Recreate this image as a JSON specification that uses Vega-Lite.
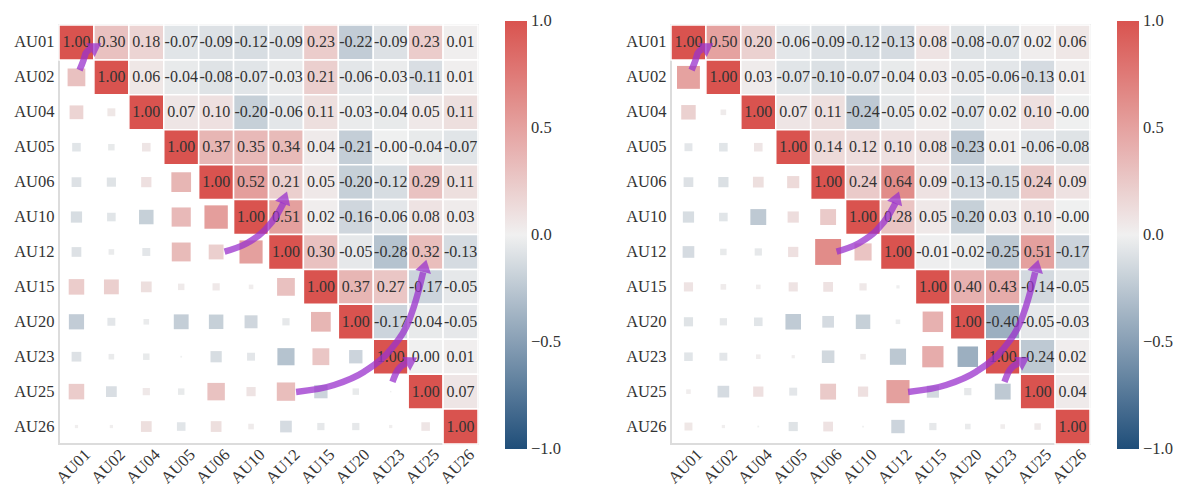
{
  "$schema": "https://vega.github.io/schema/vega-lite/v6.json",
  "padding": {"left": 12, "top": 20, "right": 5, "bottom": 0},
  "background": "white",
  "spacing": 62,
  "config": {
    "view": {"stroke": "#dcdcdc", "strokeWidth": 2},
    "font": "Liberation Serif",
    "axis": {"labelFont": "Liberation Serif", "labelFontSize": 16.5, "labelColor": "#333333", "ticks": false, "domain": false, "grid": false},
    "legend": {"labelFont": "Liberation Serif", "labelFontSize": 16.5, "labelColor": "#333333"},
    "text": {"font": "Liberation Serif"}
  },
  "resolve": {"scale": {"color": "independent"}, "legend": {"color": "independent"}},
  "datasets": {
    "left": [
      {"row":"AU01","col":"AU01","r":1},{"row":"AU01","col":"AU02","r":0.30},{"row":"AU01","col":"AU04","r":0.18},{"row":"AU01","col":"AU05","r":-0.07},{"row":"AU01","col":"AU06","r":-0.09},{"row":"AU01","col":"AU10","r":-0.12},{"row":"AU01","col":"AU12","r":-0.09},{"row":"AU01","col":"AU15","r":0.23},{"row":"AU01","col":"AU20","r":-0.22},{"row":"AU01","col":"AU23","r":-0.09},{"row":"AU01","col":"AU25","r":0.23},{"row":"AU01","col":"AU26","r":0.01},
      {"row":"AU02","col":"AU02","r":1},{"row":"AU02","col":"AU04","r":0.06},{"row":"AU02","col":"AU05","r":-0.04},{"row":"AU02","col":"AU06","r":-0.08},{"row":"AU02","col":"AU10","r":-0.07},{"row":"AU02","col":"AU12","r":-0.03},{"row":"AU02","col":"AU15","r":0.21},{"row":"AU02","col":"AU20","r":-0.06},{"row":"AU02","col":"AU23","r":-0.03},{"row":"AU02","col":"AU25","r":-0.11},{"row":"AU02","col":"AU26","r":0.01},
      {"row":"AU04","col":"AU04","r":1},{"row":"AU04","col":"AU05","r":0.07},{"row":"AU04","col":"AU06","r":0.10},{"row":"AU04","col":"AU10","r":-0.20},{"row":"AU04","col":"AU12","r":-0.06},{"row":"AU04","col":"AU15","r":0.11},{"row":"AU04","col":"AU20","r":-0.03},{"row":"AU04","col":"AU23","r":-0.04},{"row":"AU04","col":"AU25","r":0.05},{"row":"AU04","col":"AU26","r":0.11},
      {"row":"AU05","col":"AU05","r":1},{"row":"AU05","col":"AU06","r":0.37},{"row":"AU05","col":"AU10","r":0.35},{"row":"AU05","col":"AU12","r":0.34},{"row":"AU05","col":"AU15","r":0.04},{"row":"AU05","col":"AU20","r":-0.21},{"row":"AU05","col":"AU23","r":-0.003},{"row":"AU05","col":"AU25","r":-0.04},{"row":"AU05","col":"AU26","r":-0.07},
      {"row":"AU06","col":"AU06","r":1},{"row":"AU06","col":"AU10","r":0.52},{"row":"AU06","col":"AU12","r":0.21},{"row":"AU06","col":"AU15","r":0.05},{"row":"AU06","col":"AU20","r":-0.20},{"row":"AU06","col":"AU23","r":-0.12},{"row":"AU06","col":"AU25","r":0.29},{"row":"AU06","col":"AU26","r":0.11},
      {"row":"AU10","col":"AU10","r":1},{"row":"AU10","col":"AU12","r":0.51},{"row":"AU10","col":"AU15","r":0.02},{"row":"AU10","col":"AU20","r":-0.16},{"row":"AU10","col":"AU23","r":-0.06},{"row":"AU10","col":"AU25","r":0.08},{"row":"AU10","col":"AU26","r":0.03},
      {"row":"AU12","col":"AU12","r":1},{"row":"AU12","col":"AU15","r":0.30},{"row":"AU12","col":"AU20","r":-0.05},{"row":"AU12","col":"AU23","r":-0.28},{"row":"AU12","col":"AU25","r":0.32},{"row":"AU12","col":"AU26","r":-0.13},
      {"row":"AU15","col":"AU15","r":1},{"row":"AU15","col":"AU20","r":0.37},{"row":"AU15","col":"AU23","r":0.27},{"row":"AU15","col":"AU25","r":-0.17},{"row":"AU15","col":"AU26","r":-0.05},
      {"row":"AU20","col":"AU20","r":1},{"row":"AU20","col":"AU23","r":-0.17},{"row":"AU20","col":"AU25","r":-0.04},{"row":"AU20","col":"AU26","r":-0.05},
      {"row":"AU23","col":"AU23","r":1},{"row":"AU23","col":"AU25","r":0.002},{"row":"AU23","col":"AU26","r":0.01},
      {"row":"AU25","col":"AU25","r":1},{"row":"AU25","col":"AU26","r":0.07},
      {"row":"AU26","col":"AU26","r":1}
    ],
    "right": [
      {"row":"AU01","col":"AU01","r":1},{"row":"AU01","col":"AU02","r":0.50},{"row":"AU01","col":"AU04","r":0.20},{"row":"AU01","col":"AU05","r":-0.06},{"row":"AU01","col":"AU06","r":-0.09},{"row":"AU01","col":"AU10","r":-0.12},{"row":"AU01","col":"AU12","r":-0.13},{"row":"AU01","col":"AU15","r":0.08},{"row":"AU01","col":"AU20","r":-0.08},{"row":"AU01","col":"AU23","r":-0.07},{"row":"AU01","col":"AU25","r":0.02},{"row":"AU01","col":"AU26","r":0.06},
      {"row":"AU02","col":"AU02","r":1},{"row":"AU02","col":"AU04","r":0.03},{"row":"AU02","col":"AU05","r":-0.07},{"row":"AU02","col":"AU06","r":-0.10},{"row":"AU02","col":"AU10","r":-0.07},{"row":"AU02","col":"AU12","r":-0.04},{"row":"AU02","col":"AU15","r":0.03},{"row":"AU02","col":"AU20","r":-0.05},{"row":"AU02","col":"AU23","r":-0.06},{"row":"AU02","col":"AU25","r":-0.13},{"row":"AU02","col":"AU26","r":0.01},
      {"row":"AU04","col":"AU04","r":1},{"row":"AU04","col":"AU05","r":0.07},{"row":"AU04","col":"AU06","r":0.11},{"row":"AU04","col":"AU10","r":-0.24},{"row":"AU04","col":"AU12","r":-0.05},{"row":"AU04","col":"AU15","r":0.02},{"row":"AU04","col":"AU20","r":-0.07},{"row":"AU04","col":"AU23","r":0.02},{"row":"AU04","col":"AU25","r":0.10},{"row":"AU04","col":"AU26","r":-0.003},
      {"row":"AU05","col":"AU05","r":1},{"row":"AU05","col":"AU06","r":0.14},{"row":"AU05","col":"AU10","r":0.12},{"row":"AU05","col":"AU12","r":0.10},{"row":"AU05","col":"AU15","r":0.08},{"row":"AU05","col":"AU20","r":-0.23},{"row":"AU05","col":"AU23","r":0.01},{"row":"AU05","col":"AU25","r":-0.06},{"row":"AU05","col":"AU26","r":-0.08},
      {"row":"AU06","col":"AU06","r":1},{"row":"AU06","col":"AU10","r":0.24},{"row":"AU06","col":"AU12","r":0.64},{"row":"AU06","col":"AU15","r":0.09},{"row":"AU06","col":"AU20","r":-0.13},{"row":"AU06","col":"AU23","r":-0.15},{"row":"AU06","col":"AU25","r":0.24},{"row":"AU06","col":"AU26","r":0.09},
      {"row":"AU10","col":"AU10","r":1},{"row":"AU10","col":"AU12","r":0.28},{"row":"AU10","col":"AU15","r":0.05},{"row":"AU10","col":"AU20","r":-0.20},{"row":"AU10","col":"AU23","r":0.03},{"row":"AU10","col":"AU25","r":0.10},{"row":"AU10","col":"AU26","r":-0.003},
      {"row":"AU12","col":"AU12","r":1},{"row":"AU12","col":"AU15","r":-0.01},{"row":"AU12","col":"AU20","r":-0.02},{"row":"AU12","col":"AU23","r":-0.25},{"row":"AU12","col":"AU25","r":0.51},{"row":"AU12","col":"AU26","r":-0.17},
      {"row":"AU15","col":"AU15","r":1},{"row":"AU15","col":"AU20","r":0.40},{"row":"AU15","col":"AU23","r":0.43},{"row":"AU15","col":"AU25","r":-0.14},{"row":"AU15","col":"AU26","r":-0.05},
      {"row":"AU20","col":"AU20","r":1},{"row":"AU20","col":"AU23","r":-0.40},{"row":"AU20","col":"AU25","r":-0.05},{"row":"AU20","col":"AU26","r":-0.03},
      {"row":"AU23","col":"AU23","r":1},{"row":"AU23","col":"AU25","r":-0.24},{"row":"AU23","col":"AU26","r":0.02},
      {"row":"AU25","col":"AU25","r":1},{"row":"AU25","col":"AU26","r":0.04},
      {"row":"AU26","col":"AU26","r":1}
    ],
    "arrows": [
      {"a":"a1","k":0,"x":0.589,"y":1.292},{"a":"a1","k":1,"x":0.703,"y":1.005},{"a":"a1","k":2,"x":0.77,"y":0.80},{"a":"a1","k":3,"x":0.886,"y":0.697},
      {"a":"a2","k":0,"x":4.742,"y":6.489},{"a":"a2","k":1,"x":5.38,"y":6.25},{"a":"a2","k":2,"x":5.89,"y":5.88},{"a":"a2","k":3,"x":6.27,"y":5.39},{"a":"a2","k":4,"x":6.43,"y":5.10},
      {"a":"a3","k":0,"x":6.79,"y":10.51},{"a":"a3","k":1,"x":7.88,"y":10.31},{"a":"a3","k":2,"x":8.74,"y":9.93},{"a":"a3","k":3,"x":9.52,"y":9.27},{"a":"a3","k":4,"x":10.01,"y":8.50},{"a":"a3","k":5,"x":10.29,"y":7.64},{"a":"a3","k":6,"x":10.43,"y":7.08},
      {"a":"a4","k":0,"x":9.55,"y":10.22},{"a":"a4","k":1,"x":9.66,"y":9.95},{"a":"a4","k":2,"x":9.78,"y":9.79},{"a":"a4","k":3,"x":9.94,"y":9.70}
    ],
    "heads": [
      {"a":"a1","x":1.21,"y":0.525,"dir":58},
      {"a":"a2","x":6.53,"y":4.77,"dir":20},
      {"a":"a3","x":10.52,"y":6.72,"dir":14},
      {"a":"a4","x":10.26,"y":9.52,"dir":60}
    ]
  },
  "hconcat": [
    {
      "width": 419, "height": 419,
      "resolve": {"scale": {"x": "independent", "y": "independent"}},
      "layer": [
        {
          "data": {"name": "left"},
          "encoding": {
            "x": {"field": "col", "type": "nominal", "title": null, "scale": {"type": "band", "domain": ["AU01","AU02","AU04","AU05","AU06","AU10","AU12","AU15","AU20","AU23","AU25","AU26"], "paddingInner": 0, "paddingOuter": 0}, "axis": {"title": null, "labelAngle": -45, "labelAlign": "center", "labelBaseline": "middle", "labelPadding": 22, "labelOffset": -3}},
            "y": {"field": "row", "type": "nominal", "title": null, "scale": {"type": "band", "domain": ["AU01","AU02","AU04","AU05","AU06","AU10","AU12","AU15","AU20","AU23","AU25","AU26"], "paddingInner": 0, "paddingOuter": 0}, "axis": {"title": null, "labelPadding": 5}}
          },
          "layer": [
            {
              "mark": {"type": "rect", "stroke": "white", "strokeWidth": 1.5},
              "encoding": {
                "color": {"field": "r", "type": "quantitative", "scale": {"domain": [-1, 0, 1], "range": ["#1f4e79", "#f0f0f0", "#d9534f"], "interpolate": "rgb"},
                  "legend": {"orient": "none", "legendX": 446, "legendY": -4, "direction": "vertical", "gradientLength": 428, "gradientThickness": 22, "title": null, "values": [-1, -0.5, 0, 0.5, 1], "format": ".1f", "labelFont": "Liberation Serif", "labelFontSize": 16.5, "labelColor": "#333333", "labelOffset": 4, "gradientStrokeWidth": 0, "encode": {"labels": {"update": {"baseline": {"value": "middle"}, "font": {"value": "Liberation Serif"}}}}}}
              }
            },
            {
              "mark": {"type": "text", "font": "Liberation Serif", "fontSize": 16, "color": "#333333", "text": {"expr": "(datum.r < 0 ? '-' : '') + format(abs(datum.r), '.2f')"}}
            },
            {
              "transform": [{"filter": "datum.row != datum.col"}],
              "mark": {"type": "point", "shape": "square", "filled": true, "opacity": 1},
              "encoding": {
                "x": {"field": "row", "type": "nominal", "title": null},
                "y": {"field": "col", "type": "nominal", "title": null},
                "color": {"field": "r", "type": "quantitative", "scale": {"domain": [-1, 0, 1], "range": ["#1f4e79", "#f0f0f0", "#d9534f"], "interpolate": "rgb"},
                  "legend": {"orient": "none", "legendX": 446, "legendY": -4, "direction": "vertical", "gradientLength": 428, "gradientThickness": 22, "title": null, "values": [-1, -0.5, 0, 0.5, 1], "format": ".1f", "labelFont": "Liberation Serif", "labelFontSize": 16.5, "labelColor": "#333333", "labelOffset": 4, "gradientStrokeWidth": 0, "encode": {"labels": {"update": {"baseline": {"value": "middle"}, "font": {"value": "Liberation Serif"}}}}}},
                "size": {"field": "r", "type": "quantitative", "scale": {"domain": [-1, 0, 1], "range": [1050, 0, 1050]}, "legend": null}
              }
            }
          ]
        },
        {
          "layer": [
            {
              "data": {"name": "arrows"},
              "mark": {"type": "line", "interpolate": "monotone", "color": "#9932cc", "opacity": 0.75, "strokeWidth": 6.5, "strokeCap": "butt"},
              "encoding": {
                "x": {"field": "x", "type": "quantitative", "scale": {"domain": [0, 12], "nice": false, "zero": false}, "axis": null},
                "y": {"field": "y", "type": "quantitative", "scale": {"domain": [0, 12], "nice": false, "zero": false, "reverse": true}, "axis": null},
                "detail": {"field": "a", "type": "nominal"},
                "order": {"field": "k", "type": "quantitative"}
              }
            },
            {
              "data": {"name": "heads"},
              "mark": {"type": "point", "shape": "M0,0L1,1.6L-1,1.6Z", "filled": true, "color": "#9932cc", "opacity": 0.75, "size": 256},
              "encoding": {
                "x": {"field": "x", "type": "quantitative", "axis": null},
                "y": {"field": "y", "type": "quantitative", "axis": null},
                "angle": {"field": "dir", "type": "quantitative", "scale": {"domain": [0, 360], "range": [0, 360]}, "legend": null}
              }
            }
          ]
        }
      ]
    },
    {
      "width": 419, "height": 419,
      "resolve": {"scale": {"x": "independent", "y": "independent"}},
      "layer": [
        {
          "data": {"name": "right"},
          "encoding": {
            "x": {"field": "col", "type": "nominal", "title": null, "scale": {"type": "band", "domain": ["AU01","AU02","AU04","AU05","AU06","AU10","AU12","AU15","AU20","AU23","AU25","AU26"], "paddingInner": 0, "paddingOuter": 0}, "axis": {"title": null, "labelAngle": -45, "labelAlign": "center", "labelBaseline": "middle", "labelPadding": 22, "labelOffset": -3}},
            "y": {"field": "row", "type": "nominal", "title": null, "scale": {"type": "band", "domain": ["AU01","AU02","AU04","AU05","AU06","AU10","AU12","AU15","AU20","AU23","AU25","AU26"], "paddingInner": 0, "paddingOuter": 0}, "axis": {"title": null, "labelPadding": 5}}
          },
          "layer": [
            {
              "mark": {"type": "rect", "stroke": "white", "strokeWidth": 1.5},
              "encoding": {
                "color": {"field": "r", "type": "quantitative", "scale": {"domain": [-1, 0, 1], "range": ["#1f4e79", "#f0f0f0", "#d9534f"], "interpolate": "rgb"},
                  "legend": {"orient": "none", "legendX": 446, "legendY": -4, "direction": "vertical", "gradientLength": 428, "gradientThickness": 22, "title": null, "values": [-1, -0.5, 0, 0.5, 1], "format": ".1f", "labelFont": "Liberation Serif", "labelFontSize": 16.5, "labelColor": "#333333", "labelOffset": 4, "gradientStrokeWidth": 0, "encode": {"labels": {"update": {"baseline": {"value": "middle"}, "font": {"value": "Liberation Serif"}}}}}}
              }
            },
            {
              "mark": {"type": "text", "font": "Liberation Serif", "fontSize": 16, "color": "#333333", "text": {"expr": "(datum.r < 0 ? '-' : '') + format(abs(datum.r), '.2f')"}}
            },
            {
              "transform": [{"filter": "datum.row != datum.col"}],
              "mark": {"type": "point", "shape": "square", "filled": true, "opacity": 1},
              "encoding": {
                "x": {"field": "row", "type": "nominal", "title": null},
                "y": {"field": "col", "type": "nominal", "title": null},
                "color": {"field": "r", "type": "quantitative", "scale": {"domain": [-1, 0, 1], "range": ["#1f4e79", "#f0f0f0", "#d9534f"], "interpolate": "rgb"},
                  "legend": {"orient": "none", "legendX": 446, "legendY": -4, "direction": "vertical", "gradientLength": 428, "gradientThickness": 22, "title": null, "values": [-1, -0.5, 0, 0.5, 1], "format": ".1f", "labelFont": "Liberation Serif", "labelFontSize": 16.5, "labelColor": "#333333", "labelOffset": 4, "gradientStrokeWidth": 0, "encode": {"labels": {"update": {"baseline": {"value": "middle"}, "font": {"value": "Liberation Serif"}}}}}},
                "size": {"field": "r", "type": "quantitative", "scale": {"domain": [-1, 0, 1], "range": [1050, 0, 1050]}, "legend": null}
              }
            }
          ]
        },
        {
          "layer": [
            {
              "data": {"name": "arrows"},
              "mark": {"type": "line", "interpolate": "monotone", "color": "#9932cc", "opacity": 0.75, "strokeWidth": 6.5, "strokeCap": "butt"},
              "encoding": {
                "x": {"field": "x", "type": "quantitative", "scale": {"domain": [0, 12], "nice": false, "zero": false}, "axis": null},
                "y": {"field": "y", "type": "quantitative", "scale": {"domain": [0, 12], "nice": false, "zero": false, "reverse": true}, "axis": null},
                "detail": {"field": "a", "type": "nominal"},
                "order": {"field": "k", "type": "quantitative"}
              }
            },
            {
              "data": {"name": "heads"},
              "mark": {"type": "point", "shape": "M0,0L1,1.6L-1,1.6Z", "filled": true, "color": "#9932cc", "opacity": 0.75, "size": 256},
              "encoding": {
                "x": {"field": "x", "type": "quantitative", "axis": null},
                "y": {"field": "y", "type": "quantitative", "axis": null},
                "angle": {"field": "dir", "type": "quantitative", "scale": {"domain": [0, 360], "range": [0, 360]}, "legend": null}
              }
            }
          ]
        }
      ]
    }
  ]
}
